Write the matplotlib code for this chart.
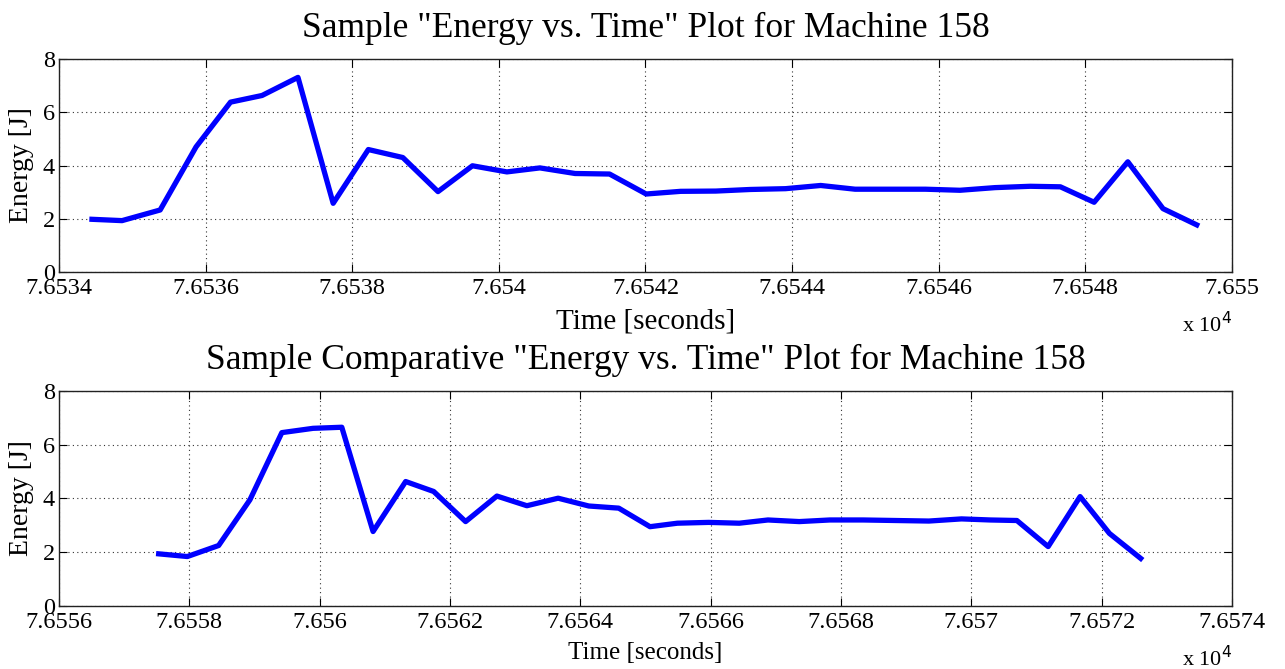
import matplotlib.pyplot as plt
from matplotlib.ticker import FuncFormatter
import numpy as np

plt.rcParams['font.family'] = ['Liberation Serif', 'DejaVu Serif']

# top plot: machine 158 run
top_time = [76534.45, 76534.86, 76535.38, 76535.87, 76536.34, 76536.77, 76537.26,
            76537.74, 76538.22, 76538.69, 76539.17, 76539.64, 76540.11, 76540.56,
            76541.04, 76541.51, 76542.01, 76542.48, 76542.96, 76543.43, 76543.91,
            76544.39, 76544.86, 76545.34, 76545.82, 76546.29, 76546.77, 76547.25,
            76547.66, 76548.12, 76548.58, 76549.06, 76549.52]
top_energy = [1.98, 1.93, 2.33, 4.70, 6.38, 6.63, 7.31, 2.58, 4.60, 4.30, 3.02,
              3.99, 3.76, 3.91, 3.70, 3.68, 2.93, 3.03, 3.04, 3.10, 3.13, 3.25,
              3.11, 3.11, 3.11, 3.07, 3.17, 3.22, 3.20, 2.62, 4.14, 2.38, 1.77]

# bottom plot: comparative run
bot_time = [76557.53, 76557.97, 76558.45, 76558.93, 76559.42, 76559.90, 76560.34,
            76560.82, 76561.32, 76561.75, 76562.24, 76562.72, 76563.18, 76563.66,
            76564.13, 76564.59, 76565.07, 76565.49, 76565.97, 76566.44, 76566.88,
            76567.36, 76567.83, 76568.34, 76568.84, 76569.35, 76569.85, 76570.29,
            76570.70, 76571.18, 76571.67, 76572.12, 76572.60]
bot_energy = [1.94, 1.84, 2.25, 3.95, 6.45, 6.61, 6.65, 2.77, 4.63, 4.26, 3.14,
              4.09, 3.73, 4.01, 3.72, 3.64, 2.95, 3.08, 3.11, 3.08, 3.20, 3.14,
              3.20, 3.20, 3.18, 3.16, 3.24, 3.20, 3.18, 2.21, 4.07, 2.70, 1.77]

top_xlim = (76534, 76550)
bot_xlim = (76556, 76574)
yticks = [0, 2, 4, 6, 8]

titles = ['Sample "Energy vs. Time" Plot for Machine 158',
          'Sample Comparative "Energy vs. Time" Plot for Machine 158']


def fmt(v, pos):
    return f"{v / 1e4:.5g}"


fig = plt.figure(figsize=(12.85, 6.69), dpi=100, facecolor='white')
ax1 = fig.add_axes([0.0459, 0.5934, 0.9128, 0.3184])
ax2 = fig.add_axes([0.0459, 0.0942, 0.9128, 0.3214])

panels = [(ax1, top_time, top_energy, top_xlim, titles[0], 21, 7),
          (ax2, bot_time, bot_energy, bot_xlim, titles[1], 18, 7)]

for ax, t, e, xlim, title, xlab_size, xlab_pad in panels:
    ax.plot(t, e, color='#0000ff', lw=3.8, solid_joinstyle='round')
    ax.set_xlim(*xlim)
    ax.set_ylim(0, 8)
    ax.set_xticks(np.arange(xlim[0], xlim[1] + 1, 2))
    ax.set_yticks(yticks)
    ax.xaxis.set_major_formatter(FuncFormatter(fmt))
    ax.grid(True, color='#333333', linestyle=(0, (1, 3)), linewidth=0.8)
    ax.tick_params(direction='in', length=6, width=0.8, top=True, right=True,
                   labelsize=17.5, colors='black')
    ax.tick_params(axis='x', pad=4)
    ax.tick_params(axis='y', pad=3)
    for spine in ax.spines.values():
        spine.set_color('#222222')
        spine.set_linewidth(1.0)
    ax.set_title(title, fontsize=25.5, pad=16)
    ax.set_xlabel('Time [seconds]', fontsize=xlab_size, labelpad=xlab_pad)
    ax.set_ylabel('Energy [J]', fontsize=20, labelpad=6)
    ax.text(1.0, -0.245, r'x 10$^{4}$', transform=ax.transAxes, ha='right',
            va='center', fontsize=16)

fig.savefig('out.png', dpi=100)
